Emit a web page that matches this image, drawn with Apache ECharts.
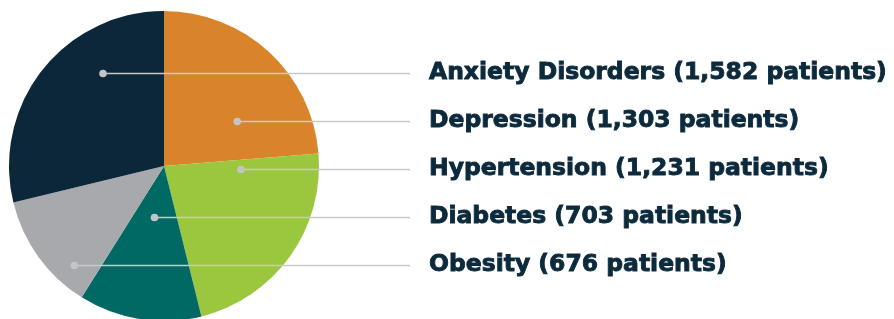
<!DOCTYPE html>
<html>
<head>
<meta charset="utf-8">
<style>
  html, body { margin: 0; padding: 0; background: #ffffff; }
  #chart { width: 894px; height: 319px; }
</style>
<script src="https://cdn.jsdelivr.net/npm/echarts@6/dist/echarts.min.js"></script>
</head>
<body>
<div id="chart"></div>
<script>
// ---- Data ----
const categories = ['Depression', 'Hypertension', 'Diabetes', 'Obesity', 'Anxiety Disorders'];
const patients = [1303, 1231, 703, 676, 1582];
const sliceColors = ['#d9842b', '#9bc73e', '#006963', '#a8a9ac', '#0b2739'];

// ---- Layout / style constants ----
const CX = 164, CY = 166, R = 155;
const LABEL_X = 429, LINE_END_X = 410, LABEL_CY = 168.6, LABEL_STEP = 48;
const TEXT_COLOR = '#0c2a3c';
const FONT_FAMILY = '"DejaVu Sans", "Liberation Sans", sans-serif';
const STROKE_W = 0.9;

function fmt(n) { return n.toLocaleString('en-US'); }
function labelText(i) { return categories[i] + ' (' + fmt(patients[i]) + ' patients)'; }

// fit font size so the longest label spans the same width as in the reference
const measureCtx = document.createElement('canvas').getContext('2d');
measureCtx.font = 'bold 100px ' + FONT_FAMILY;
let maxW = 0;
categories.forEach((c, i) => { maxW = Math.max(maxW, measureCtx.measureText(labelText(i)).width); });
const FONT_SIZE = Math.min(26, 100 * (459 - STROKE_W) / maxW);

// rank labels by value (descending)
const order = patients.map((v, i) => i).sort((a, b) => patients[b] - patients[a]);
const rank = [];
order.forEach((idx, r) => { rank[idx] = r; });

// slice angle ranges (clockwise from 12 o'clock)
const total = patients.reduce((a, b) => a + b, 0);
const ranges = [];
let acc = 0;
patients.forEach(v => { const a0 = acc; acc += v / total * 360; ranges.push([a0, acc]); });

function labelY(i) { return LABEL_CY + (rank[i] - 2) * LABEL_STEP; }
function dotX(i) {
  const y = labelY(i);
  const dy = y - CY;
  let minX = null, maxX = null;
  for (let x = CX - R; x <= CX + R; x += 0.5) {
    const dx = x - CX;
    if (dx * dx + dy * dy > R * R * 0.98) continue;
    let th = Math.atan2(dx, -dy) * 180 / Math.PI;
    if (th < 0) th += 360;
    if (th >= ranges[i][0] && th <= ranges[i][1]) {
      if (minX === null) minX = x;
      maxX = x;
    }
  }
  return (minX + maxX) / 2;
}

const chart = echarts.init(document.getElementById('chart'), null, { renderer: 'canvas' });

const guides = [];
categories.forEach((c, i) => {
  const x = dotX(i), y = Math.round(labelY(i)) + 0.5;
  guides.push({
    type: 'polyline',
    shape: { points: [[x, y], [LINE_END_X, y]] },
    style: { stroke: '#c8c9cb', lineWidth: 1.6, fill: null },
    z: 100
  });
  guides.push({
    type: 'circle',
    shape: { cx: x, cy: y, r: 3.8 },
    style: { fill: '#c3c4c7' },
    z: 101
  });
});

chart.setOption({
  animation: false,
  backgroundColor: '#ffffff',
  graphic: guides,
  series: [{
    type: 'pie',
    center: [CX, CY],
    radius: [0, R],
    startAngle: 90,
    clockwise: true,
    avoidLabelOverlap: false,
    data: categories.map((c, i) => ({ name: c, value: patients[i], itemStyle: { color: sliceColors[i] } })),
    itemStyle: { borderWidth: 0 },
    label: {
      show: true,
      position: 'outer',
      formatter: p => labelText(p.dataIndex),
      color: TEXT_COLOR,
      fontFamily: FONT_FAMILY,
      fontWeight: 'bold',
      fontSize: FONT_SIZE,
      textBorderColor: TEXT_COLOR,
      textBorderWidth: STROKE_W
    },
    labelLine: { show: false },
    labelLayout: function (params) {
      const i = params.dataIndex;
      return {
        x: LABEL_X,
        y: labelY(i),
        align: 'left',
        verticalAlign: 'middle'
      };
    },
    emphasis: { disabled: true }
  }]
});
</script>
</body>
</html>
